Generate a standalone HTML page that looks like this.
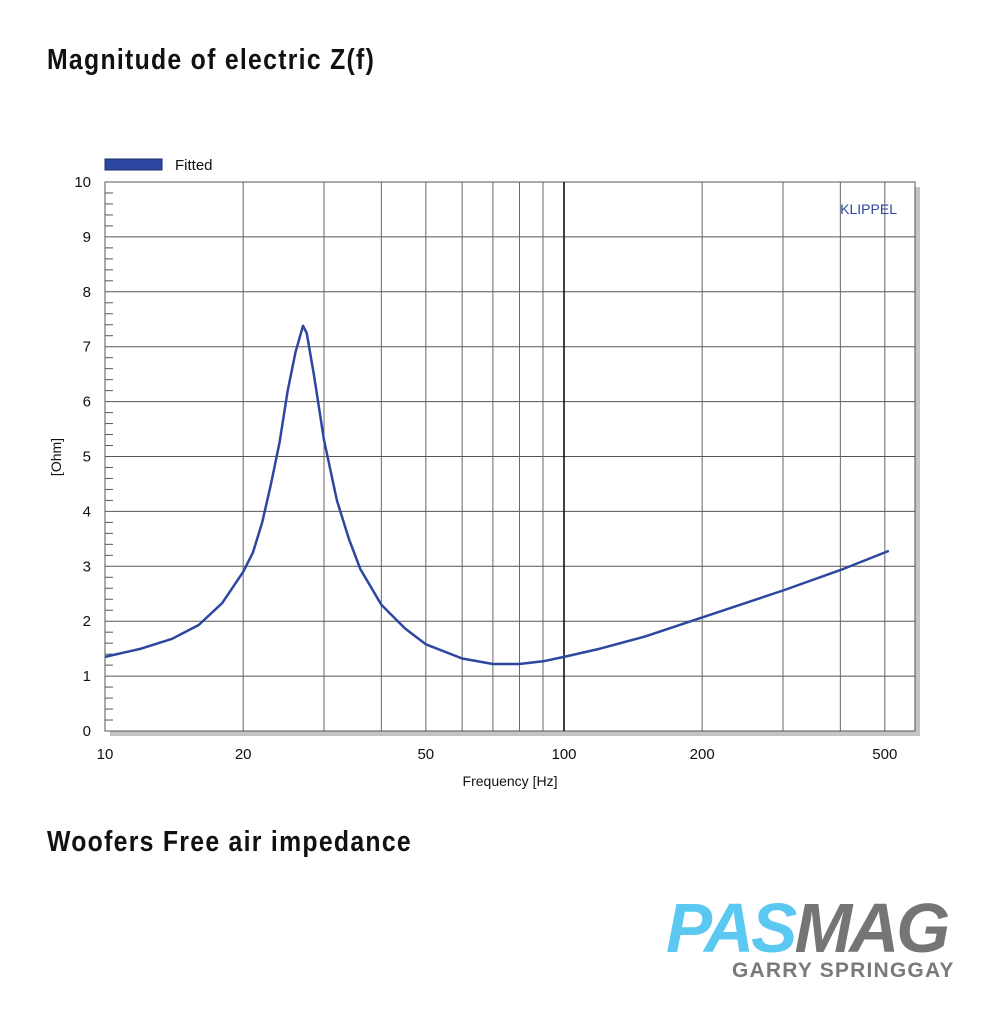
<!DOCTYPE html>
<html><head><meta charset="utf-8"><style>
body{margin:0;background:#fff;width:1000px;height:1020px;overflow:hidden;position:relative;font-family:"Liberation Sans",sans-serif}
.title{position:absolute;left:47px;font-family:"Liberation Sans Narrow","Liberation Sans",sans-serif;font-weight:bold;font-size:29px;letter-spacing:1.5px;color:#111;transform:scaleX(0.855);transform-origin:left;white-space:nowrap}
</style></head><body>
<div class="title" style="top:44px">Magnitude of electric Z(f)</div>
<div class="title" style="top:826px">Woofers Free air impedance</div>
<svg id="chart" width="1000" height="1020" style="position:absolute;left:0;top:0"></svg>
<div style="position:absolute;left:666px;top:893px;font-weight:bold;font-style:italic;font-size:70px;line-height:70px;letter-spacing:-3px;transform:scaleX(0.99);transform-origin:left;white-space:nowrap"><span style="color:#5bc8f2">PAS</span><span style="color:#757575">MAG</span></div>
<div style="position:absolute;left:732px;top:959px;font-weight:bold;font-size:21px;letter-spacing:1.2px;color:#7a7a7a;white-space:nowrap">GARRY SPRINGGAY</div>
<script>
const freqs=[10,12,14,16,18,20,21,22,23,24,25,26,27,27.5,28.5,30,32,34,36,40,45,50,60,70,80,90,100,120,150,200,300,400,510];
const ohms=[1.35,1.5,1.68,1.93,2.33,2.9,3.25,3.8,4.5,5.25,6.2,6.9,7.38,7.25,6.5,5.3,4.2,3.5,2.95,2.3,1.87,1.58,1.32,1.22,1.22,1.27,1.35,1.5,1.72,2.07,2.56,2.93,3.28];
const xTicks=[10,20,50,100,200,500];
const xGrid=[20,30,40,50,60,70,80,90,100,200,300,400,500];
const yTicks=[0,1,2,3,4,5,6,7,8,9,10];
const L=105,R=915,T=182,B=731,DEC=459;
const sx=f=>L+Math.log10(f/10)*DEC;
const sy=v=>B-(v/10)*(B-T);
const svg=document.getElementById('chart');
const NS='http://www.w3.org/2000/svg';
function mk(tag,at,parent){const e=document.createElementNS(NS,tag);for(const k in at)e.setAttribute(k,at[k]);(parent||svg).appendChild(e);return e;}
let e;
e=mk('rect',{x:R,y:T+5,width:5,height:B-T,fill:'#c4c4c4'});


e=mk('rect',{x:L+5,y:B,width:R-L,height:5,fill:'#c4c4c4'});


e=mk('rect',{x:L,y:T,width:R-L,height:B-T,fill:'#fff',stroke:'#555','stroke-width':1});


yTicks.forEach(v=>{
 const l=mk('line',{x1:L,x2:R,y1:sy(v),y2:sy(v),stroke:'#555','stroke-width':1});
 
 
 const t=mk('text',{x:L-14,y:sy(v)+5,'text-anchor':'end','font-size':15,fill:'#111'});
 t.textContent=v;
 
 
 if(v<10)for(let k=1;k<5;k++){const m=mk('line',{x1:L,x2:L+8,y1:sy(v+k*0.2),y2:sy(v+k*0.2),stroke:'#555','stroke-width':1});
 
 }
});
xGrid.forEach(f=>{
 const l=mk('line',{x1:sx(f),x2:sx(f),y1:T,y2:B,stroke:f===100?'#111':'#666','stroke-width':f===100?1.6:1});
 
 
});
xTicks.forEach(f=>{
 const t=mk('text',{x:sx(f),y:B+28,'text-anchor':'middle','font-size':15,fill:'#111'});
 t.textContent=f;
 
 
});
e=mk('text',{x:510,y:786,'text-anchor':'middle','font-size':14,fill:'#111'});e.textContent='Frequency [Hz]';


e=mk('text',{x:61,y:457,'text-anchor':'middle','font-size':14,fill:'#111',transform:'rotate(-90 61 457)'});e.textContent='[Ohm]';


e=mk('text',{x:897,y:214,'text-anchor':'end','font-size':14,fill:'#2d47a0'});e.textContent='KLIPPEL';


e=mk('rect',{x:105,y:159,width:57,height:11,fill:'#2d47a0',stroke:'#1c2d6e','stroke-width':1});


e=mk('text',{x:175,y:170,'font-size':15,fill:'#111'});e.textContent='Fitted';


const d=freqs.map((f,i)=>(i?'L':'M')+sx(f).toFixed(1)+','+sy(ohms[i]).toFixed(1)).join(' ');
e=mk('path',{d:d,fill:'none',stroke:'#2d47a0','stroke-width':2.5,'stroke-linejoin':'round'});


</script>
</body></html>
